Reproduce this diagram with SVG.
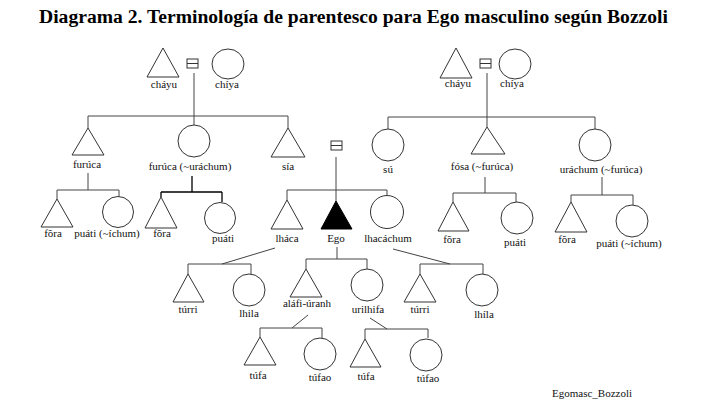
<svg xmlns="http://www.w3.org/2000/svg" width="719" height="404" viewBox="0 0 719 404">
<style>
.bg{fill:#fff}
text{font-family:"Liberation Serif","Times New Roman",serif}
.t{font-size:11px;fill:#111;text-anchor:middle}
.title{font-size:18px;font-weight:bold;fill:#000}
.foot{font-size:11px;fill:#111}
.m{fill:#fff;stroke:#333;stroke-width:1}
.f{fill:#fff;stroke:#333;stroke-width:1}
.ego{fill:#000;stroke:#000;stroke-width:1}
.eq{fill:#fff;stroke:#333;stroke-width:1}
#connectors path{fill:none;stroke:#444;stroke-width:1}
</style>
<rect class="bg" width="719" height="404"/>
<text class="title" x="39" y="23" textLength="629" lengthAdjust="spacingAndGlyphs">Diagrama 2. Terminología de parentesco para Ego masculino según Bozzoli</text>

<g id="connectors">
<path d="M194 73V116M88 116H288M88 116V128M194 116V125M288 116V128"/>
<path d="M88 173V190M57 190H119M57 190V199M119 190V197"/>
<path d="M192 176V192M161 192H222M161 192V197M222 192V202" style="stroke:#000;stroke-width:1.3"/>
<path d="M336 157V190M287 190H387M287 190V200M336 190V201M387 190V196"/>
<path d="M487 73V117M388 117H595M388 117V129M487 117V127M595 117V129"/>
<path d="M485 177V193M453 193H516M453 193V202M516 193V202"/>
<path d="M602 177V195M571 195H633M571 195V202M633 195V205"/>
<path d="M275 248L222 264M188 264H251M188 264V274M251 264V274"/>
<path d="M337 247V259M306 259H367M306 259V269M367 259V269"/>
<path d="M393 249L450 264M420 264H483M420 264V274M483 264V274"/>
<path d="M308 315L292 328M260 328H322M260 328V337M322 328V338"/>
<path d="M370 318L387 329M365 329H428M365 329V339M428 329V338"/>
</g>

<g id="eq1"><rect class="eq" x="187" y="59" width="11" height="9"/><line x1="187" y1="63.5" x2="198" y2="63.5" stroke="#333"/></g>
<g id="eq2"><rect class="eq" x="480" y="59" width="11" height="9"/><line x1="480" y1="63.5" x2="491" y2="63.5" stroke="#333"/></g>
<g id="eq3"><rect class="eq" x="331" y="141" width="11" height="9"/><line x1="331" y1="145.5" x2="342" y2="145.5" stroke="#333"/></g>

<g id="chayu1"><path class="m" d="M163 48L147 77H179Z"/><text class="t" x="164" y="88">cháyu</text></g>
<g id="chiya1"><ellipse class="f" cx="228" cy="64" rx="16" ry="15"/><text class="t" x="227" y="88">chíya</text></g>

<g id="furuca-m"><path class="m" d="M88 128L72 155H104Z"/><text class="t" x="87" y="168">furúca</text></g>
<g id="furuca-f"><circle class="f" cx="194" cy="141" r="16"/><text class="t" x="190" y="170">furúca (~uráchum)</text></g>
<g id="sia"><path class="m" d="M288 128L271 157H305Z"/><text class="t" x="288" y="170">sía</text></g>

<g id="fora1"><path class="m" d="M57 199L41 227H73Z"/><text class="t" x="53" y="237">fõra</text></g>
<g id="puati1"><circle class="f" cx="118" cy="212" r="15.5"/><text class="t" x="107" y="237">puáti (~íchum)</text></g>
<g id="fora2"><path class="m" d="M161 197L145 228H177Z"/><text class="t" x="162" y="237">fõra</text></g>
<g id="puati2"><circle class="f" cx="220" cy="218" r="15.5"/><text class="t" x="223" y="242">puáti</text></g>

<g id="lhaca"><path class="m" d="M287 200L271 229H303Z"/><text class="t" x="287" y="242">lháca</text></g>
<g id="ego"><path class="ego" d="M336 201L321 229H352Z"/><text class="t" x="336" y="242">Ego</text></g>
<g id="lhacachum"><circle class="f" cx="387" cy="212" r="16.5"/><text class="t" x="388" y="242">lhacáchum</text></g>

<g id="chayu2"><path class="m" d="M456 48L440 78H472Z"/><text class="t" x="458" y="87">cháyu</text></g>
<g id="chiya2"><ellipse class="f" cx="515" cy="64" rx="16" ry="15"/><text class="t" x="512" y="87">chíya</text></g>

<g id="su"><circle class="f" cx="388" cy="145" r="16"/><text class="t" x="388" y="173">sú</text></g>
<g id="fosa"><path class="m" d="M487 127L471 154H505Z"/><text class="t" x="482" y="170">fósa (~furúca)</text></g>
<g id="urachum"><circle class="f" cx="595" cy="145" r="16"/><text class="t" x="601" y="173">uráchum (~furúca)</text></g>

<g id="fora3"><path class="m" d="M453 202L438 231H469Z"/><text class="t" x="452" y="243">fõra</text></g>
<g id="puati3"><circle class="f" cx="517" cy="218" r="16"/><text class="t" x="515" y="246">puáti</text></g>
<g id="fora4"><path class="m" d="M571 202L555 232H587Z"/><text class="t" x="567" y="243">fõra</text></g>
<g id="puati4"><circle class="f" cx="632" cy="221" r="16"/><text class="t" x="629" y="247">puáti (~íchum)</text></g>

<g id="turri1"><path class="m" d="M188 274L173 302H204Z"/><text class="t" x="188" y="313">túrri</text></g>
<g id="lhila1"><circle class="f" cx="249" cy="290" r="16"/><text class="t" x="249" y="317">lhila</text></g>
<g id="alafi"><path class="m" d="M306 269L290 297H322Z"/><text class="t" x="307" y="307">aláfi-úranh</text></g>
<g id="urilhifa"><circle class="f" cx="367" cy="285" r="16"/><text class="t" x="368" y="313">urilhifa</text></g>
<g id="turri2"><path class="m" d="M420 274L404 302H436Z"/><text class="t" x="420" y="313">túrri</text></g>
<g id="lhila2"><circle class="f" cx="482" cy="290" r="16"/><text class="t" x="484" y="318">lhíla</text></g>

<g id="tufa1"><path class="m" d="M260 337L244 365H276Z"/><text class="t" x="258" y="379">túfa</text></g>
<g id="tufao1"><circle class="f" cx="320" cy="354" r="16"/><text class="t" x="320" y="381">túfao</text></g>
<g id="tufa2"><path class="m" d="M365 339L350 367H381Z"/><text class="t" x="366" y="380">túfa</text></g>
<g id="tufao2"><circle class="f" cx="426" cy="355" r="16"/><text class="t" x="428" y="382">túfao</text></g>

<text class="foot" x="552" y="397">Egomasc_Bozzoli</text>
</svg>
